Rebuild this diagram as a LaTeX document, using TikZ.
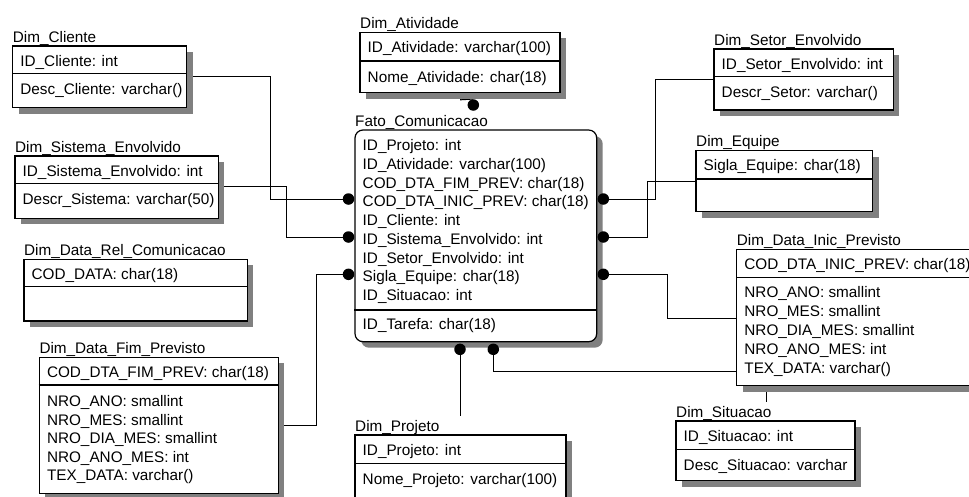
\documentclass[tikz,border=0pt]{standalone}
\usepackage{fontspec}
\setmainfont{Liberation Sans}
\usetikzlibrary{fit}
\pgfdeclarelayer{background}
\pgfsetlayers{background,main}

\begin{document}
\begin{tikzpicture}[
        % Star schema, drawn in pixel units
        x=1pt, y=-1pt,
        every node/.style={font=\fontsize{15.3}{18}\selectfont},
        % Table Styles
        tabela/.style={
            rectangle,
            draw=black,
            line width=1.2pt,
            fill=white,
            inner sep=0pt
        },
        fato/.style={tabela, rounded corners=8pt},
        sombra/.style={fill=black!50},
        divisoria/.style={line width=1.2pt},
        titulo/.style={anchor=base west, inner sep=0pt},
        campo/.style={anchor=base west, inner sep=0pt},
        % Connector Styles
        ligacao/.style={line width=1pt, draw=black},
        ponto/.style={circle, fill=black, inner sep=0pt, minimum size=11.5pt}
    ]
    \useasboundingbox (0,0) rectangle (969,496);

    % --- Table boxes with their shadows (name/left/top/right/bottom) ---
    \foreach \n/\a/\b/\c/\d in {cli/12.7/46/186.7/107.7, sis/15/156/218.3/218.3,
        rel/24/259.3/247.3/321, fim/39.3/357.3/278.3/493.3, ati/360/32.3/560/92.7,
        pro/355/435/566/505, set/714/49/893.3/110, equ/696/150.7/872.7/211.7,
        ini/736.7/249.3/990/385.7, sit/676/421/855/480.7}
    {
        \fill[sombra] ({\a+6},{\b+6}) rectangle ({\c+6},{\d+6});
        \node[tabela, fit={(\a,\b) (\c,\d)}] (\n) {};
    }
    \fill[sombra, rounded corners=8pt] (361,136) rectangle (602.7,347.7);
    \node[fato, fit={(355,130) (596.7,341.7)}] (fato) {};

    % --- Fact table (centre) ---
    \node[titulo] (fato-t) at (355,126) {Fato\_Comunicacao};
    \draw[divisoria] (fato.west |- 0,310) -- (fato.east |- 0,310);
    \foreach \t [count=\i from 0] in {ID\_Projeto: int, ID\_Atividade: varchar(100),
        COD\_DTA\_FIM\_PREV: char(18), COD\_DTA\_INIC\_PREV: char(18), ID\_Cliente: int,
        ID\_Sistema\_Envolvido: int, ID\_Setor\_Envolvido: int, Sigla\_Equipe: char(18),
        ID\_Situacao: int}
        \node[campo] (fato-k\i) at ({362.5},{150.5+18.75*\i}) {\t};
    \node[campo] (fato-a) at (362.5,329.5) {ID\_Tarefa: char(18)};

    % --- Dimensions (left) ---
    \node[titulo] (cli-t) at (12.7,42) {Dim\_Cliente};
    \draw[divisoria] (cli.west |- 0,73.3) -- (cli.east |- 0,73.3);
    \node[campo] (cli-k) at (20.2,66) {ID\_Cliente: int};
    \node[campo] (cli-a) at (20.2,94.3) {Desc\_Cliente: varchar()};

    \node[titulo] (sis-t) at (15,152) {Dim\_Sistema\_Envolvido};
    \draw[divisoria] (sis.west |- 0,183.3) -- (sis.east |- 0,183.3);
    \node[campo] (sis-k) at (22.5,176) {ID\_Sistema\_Envolvido: int};
    \node[campo] (sis-a) at (22.5,204.3) {Descr\_Sistema: varchar(50)};

    \node[titulo] (rel-t) at (24,255.3) {Dim\_Data\_Rel\_Comunicacao};
    \draw[divisoria] (rel.west |- 0,286.7) -- (rel.east |- 0,286.7);
    \node[campo] (rel-k) at (31.5,279.3) {COD\_DATA: char(18)};

    \node[titulo] (fim-t) at (39.3,353.3) {Dim\_Data\_Fim\_Previsto};
    \draw[divisoria] (fim.west |- 0,385) -- (fim.east |- 0,385);
    \node[campo] (fim-k) at (46.8,377.3) {COD\_DTA\_FIM\_PREV: char(18)};
    \foreach \t [count=\i from 0] in {NRO\_ANO: smallint, NRO\_MES: smallint,
        NRO\_DIA\_MES: smallint, NRO\_ANO\_MES: int, TEX\_DATA: varchar()}
        \node[campo] (fim-a\i) at ({46.8},{406.5+18.5*\i}) {\t};

    % --- Dimensions (top and bottom) ---
    \node[titulo] (ati-t) at (360,28.3) {Dim\_Atividade};
    \draw[divisoria] (ati.west |- 0,61) -- (ati.east |- 0,61);
    \node[campo] (ati-k) at (367.5,52.3) {ID\_Atividade: varchar(100)};
    \node[campo] (ati-a) at (367.5,82) {Nome\_Atividade: char(18)};

    \node[titulo] (pro-t) at (355,431.5) {Dim\_Projeto};
    \draw[divisoria] (pro.west |- 0,463.3) -- (pro.east |- 0,463.3);
    \node[campo] (pro-k) at (362.5,455) {ID\_Projeto: int};
    \node[campo] (pro-a) at (362.5,484.3) {Nome\_Projeto: varchar(100)};

    % --- Dimensions (right) ---
    \node[titulo] (set-t) at (714,45) {Dim\_Setor\_Envolvido};
    \draw[divisoria] (set.west |- 0,76.7) -- (set.east |- 0,76.7);
    \node[campo] (set-k) at (721.5,69) {ID\_Setor\_Envolvido: int};
    \node[campo] (set-a) at (721.5,97.7) {Descr\_Setor: varchar()};

    \node[titulo] (equ-t) at (696,146.7) {Dim\_Equipe};
    \draw[divisoria] (equ.west |- 0,179) -- (equ.east |- 0,179);
    \node[campo] (equ-k) at (703.5,170.7) {Sigla\_Equipe: char(18)};

    \node[titulo] (ini-t) at (736.7,245.3) {Dim\_Data\_Inic\_Previsto};
    \draw[divisoria] (ini.west |- 0,277.3) -- (ini.east |- 0,277.3);
    \node[campo] (ini-k) at (744.2,269.3) {COD\_DTA\_INIC\_PREV: char(18)};
    \foreach \t [count=\i from 0] in {NRO\_ANO: smallint, NRO\_MES: smallint,
        NRO\_DIA\_MES: smallint, NRO\_ANO\_MES: int, TEX\_DATA: varchar()}
        \node[campo] (ini-a\i) at ({744.2},{297.5+18.9*\i}) {\t};

    \node[titulo] (sit-t) at (676,417) {Dim\_Situacao};
    \draw[divisoria] (sit.west |- 0,449.3) -- (sit.east |- 0,449.3);
    \node[campo] (sit-k) at (683.5,441) {ID\_Situacao: int};
    \node[campo] (sit-a) at (683.5,470.3) {Desc\_Situacao: varchar};

    % --- Relationship dots ---
    \node[ponto] (pl1) at (348.5,199) {};
    \node[ponto] (pl2) at (348.5,237) {};
    \node[ponto] (pl3) at (348.5,274.3) {};
    \node[ponto] (pr1) at (603.3,199) {};
    \node[ponto] (pr2) at (603.3,237) {};
    \node[ponto] (pr3) at (603.3,274.3) {};
    \node[ponto] (pt) at (473.3,105) {};
    \node[ponto] (pb1) at (460,349.3) {};
    \node[ponto] (pb2) at (493.3,349.3) {};
    \coordinate (pro-lig) at (460,416);
    \coordinate (sit-lig) at (766,401.7);

    % --- Connectors (behind the shadows) ---
    \begin{pgfonlayer}{background}
        \draw[ligacao] (cli.east |- 0,76.7) -| (270,199) -- (pl1);
        \draw[ligacao] (sis.east |- 0,186.7) -| (286,237) -- (pl2);
        \draw[ligacao] (fim.east |- 0,425) -| (316,274.3) -- (pl3);
        \draw[ligacao] (ati.south -| 460.7,0) -- (460.7,99.8) -- (pt.north);
        \draw[ligacao] (set.west |- 0,79.3) -| (655,199) -- (pr1);
        \draw[ligacao] (equ.west |- 0,181) -| (647.7,237) -- (pr2);
        \draw[ligacao] (ini.west |- 0,318.3) -| (667.3,274.3) -- (pr3);
        \draw[ligacao] (ini.west |- 0,371.7) -| (pb2);
        \draw[ligacao] (pb1) -- (pro-lig);
        \draw[ligacao] (ini.south -| sit-lig) -- (sit-lig);
    \end{pgfonlayer}

\end{tikzpicture}
\end{document}
